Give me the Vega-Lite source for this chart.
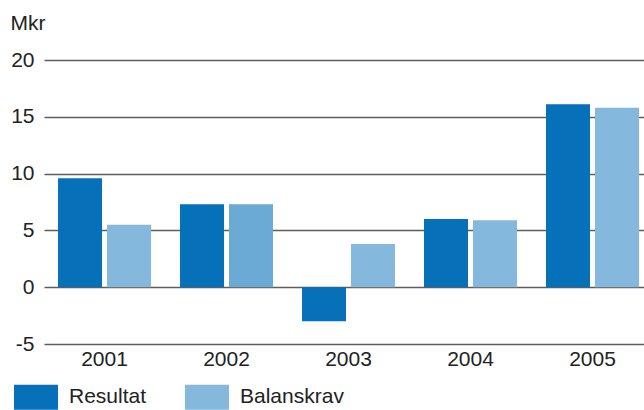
{
  "$schema": "https://vega.github.io/schema/vega-lite/v6.json",
  "width": 600,
  "height": 284,
  "autosize": "none",
  "padding": {"left": 44, "top": 60, "right": 0, "bottom": 66},
  "background": "white",
  "config": {
    "view": {"stroke": null},
    "font": "Liberation Sans",
    "axis": {"labelFont": "Liberation Sans", "titleFont": "Liberation Sans"},
    "legend": {"labelFont": "Liberation Sans"}
  },
  "data": {
    "values": [
      {"year": "2001", "serie": "Resultat", "value": 9.6},
      {"year": "2001", "serie": "Balanskrav", "value": 5.5},
      {"year": "2002", "serie": "Resultat", "value": 7.3},
      {"year": "2002", "serie": "Balanskrav", "value": 7.3},
      {"year": "2003", "serie": "Resultat", "value": -3.0},
      {"year": "2003", "serie": "Balanskrav", "value": 3.8},
      {"year": "2004", "serie": "Resultat", "value": 6.0},
      {"year": "2004", "serie": "Balanskrav", "value": 5.9},
      {"year": "2005", "serie": "Resultat", "value": 16.1},
      {"year": "2005", "serie": "Balanskrav", "value": 15.8}
    ]
  },
  "mark": {"type": "bar"},
  "encoding": {
    "x": {
      "field": "year",
      "type": "nominal",
      "scale": {"paddingInner": 0.2377, "paddingOuter": 0.078, "align": 0.737},
      "axis": {
        "title": null,
        "labelAngle": 0,
        "domain": false,
        "ticks": false,
        "labelPadding": 4,
        "labelFontSize": 21,
        "labelColor": "#222222"
      }
    },
    "xOffset": {
      "field": "serie",
      "type": "nominal",
      "sort": ["Resultat", "Balanskrav"],
      "scale": {"paddingInner": 0.102, "paddingOuter": 0}
    },
    "y": {
      "field": "value",
      "type": "quantitative",
      "scale": {"domain": [-5, 20], "nice": false, "zero": false},
      "axis": {
        "values": [-5, 0, 5, 10, 15, 20],
        "labelExpr": "'' + datum.value",
        "domain": false,
        "ticks": false,
        "grid": true,
        "gridColor": "#5e5e5e",
        "gridWidth": 1.6,
        "gridOpacity": 1,
        "labelPadding": 10,
        "labelFontSize": 21,
        "labelColor": "#222222",
        "title": "Mkr",
        "titleAngle": 0,
        "titleAlign": "left",
        "titleBaseline": "middle",
        "titleX": -34,
        "titleY": -37,
        "titleFontSize": 21,
        "titleFontWeight": "normal",
        "titleColor": "#222222"
      }
    },
    "color": {
      "field": "serie",
      "type": "nominal",
      "sort": ["Resultat", "Balanskrav"],
      "scale": {"domain": ["Resultat", "Balanskrav"], "range": ["#0670b8", "#84b8dc"]},
      "condition": {"test": "datum.year == '2002' && datum.serie == 'Balanskrav'", "value": "#6aaad4"},
      "legend": {
        "title": null,
        "orient": "none",
        "direction": "horizontal",
        "legendX": -30,
        "legendY": 315,
        "symbolType": "M-1,-0.568H1V0.568H-1Z",
        "symbolSize": 1936,
        "symbolStrokeWidth": 0,
        "symbolOpacity": 1,
        "labelFontSize": 21,
        "labelColor": "#222222",
        "labelOffset": 11,
        "columnPadding": 38,
        "padding": 0
      }
    }
  }
}
